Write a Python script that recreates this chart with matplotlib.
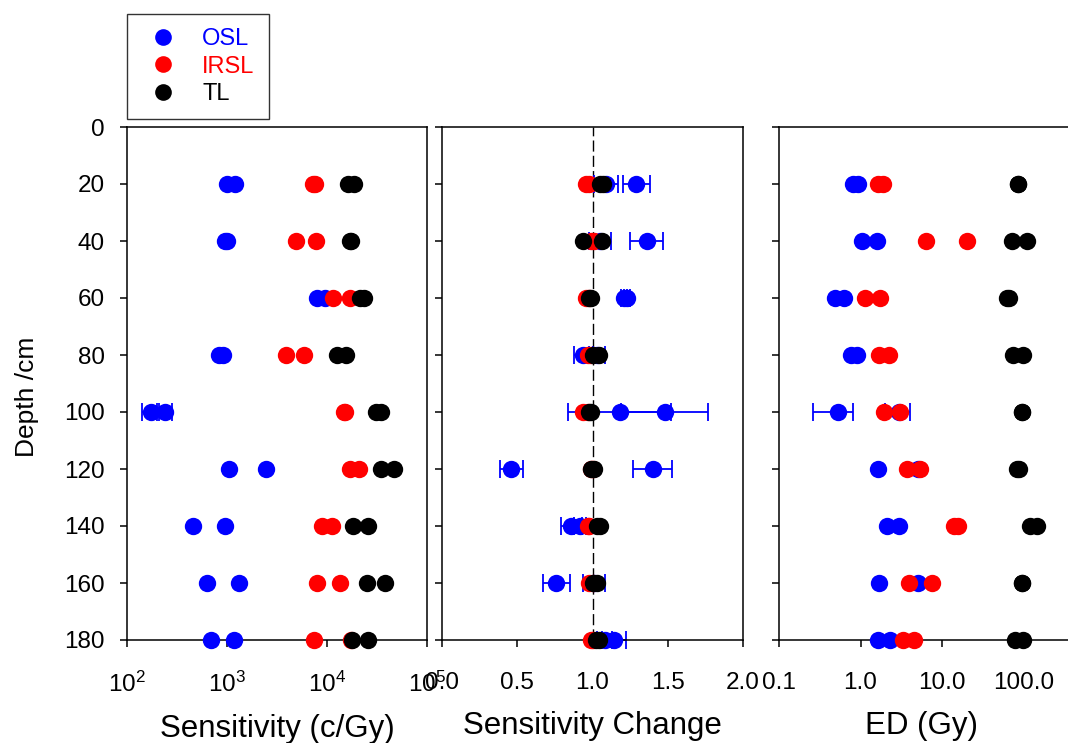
import matplotlib
matplotlib.use("Agg")
import matplotlib.pyplot as plt
from matplotlib.ticker import FixedLocator, FixedFormatter, NullLocator
from matplotlib.lines import Line2D

plt.rcParams["font.family"] = ["Liberation Sans", "DejaVu Sans"]

depth = [20, 40, 60, 80, 100, 120, 140, 160, 180]

# sensitivity (c/Gy), two aliquots per depth
sens_osl_a = [1000, 950, 7900, 830, 175, 1050, 460, 630, 690]
sens_osl_b = [1200, 1000, 9500, 910, 240, 2450, 950, 1320, 1170]
sens_osl_a_err = [0, 0, 0, 0, 35, 0, 0, 0, 0]
sens_osl_b_err = [0, 0, 0, 0, 40, 0, 0, 0, 0]
sens_irsl_a = [7300, 4900, 11500, 3900, 14800, 17000, 8900, 7900, 7400]
sens_irsl_b = [7500, 7750, 17000, 5900, 15300, 20900, 11200, 13500, 17500]
sens_tl_a = [16200, 17000, 21400, 12600, 31000, 34700, 18200, 25100, 17800]
sens_tl_b = [18600, 17500, 23400, 15500, 34700, 46800, 25700, 38000, 25700]

# sensitivity change
chg_osl_a = [1.09, 1.05, 1.21, 0.94, 1.18, 0.46, 0.86, 0.76, 1.08]
chg_osl_a_err = [0.08, 0.07, 0.02, 0.06, 0.34, 0.075, 0.07, 0.09, 0.05]
chg_osl_b = [1.29, 1.36, 1.23, 1.03, 1.48, 1.40, 0.92, 1.01, 1.14]
chg_osl_b_err = [0.09, 0.11, 0.02, 0.05, 0.29, 0.13, 0.04, 0.07, 0.08]
chg_irsl_a = [0.96, 0.99, 0.96, 0.97, 0.94, 0.99, 0.97, 0.98, 0.99]
chg_irsl_b = [0.98, 1.01, 0.98, 0.99, 0.97, 1.00, 0.98, 1.00, 1.00]
chg_tl_a = [1.05, 0.94, 0.98, 1.00, 0.98, 0.99, 1.05, 1.00, 1.02]
chg_tl_b = [1.07, 1.06, 0.99, 1.04, 0.99, 1.01, 1.03, 1.03, 1.04]

# equivalent dose (Gy)
ed_osl_a = [0.81, 1.04, 0.49, 0.76, 0.53, 1.64, 2.11, 1.69, 1.64]
ed_osl_a_err = [0, 0, 0, 0, 0.27, 0, 0, 0, 0]
ed_osl_b = [0.93, 1.59, 0.63, 0.91, 3.0, 5.1, 2.97, 5.1, 2.3]
ed_osl_b_err = [0, 0, 0, 0, 1.0, 0, 0, 0, 0]
ed_irsl_a = [1.64, 6.4, 1.14, 1.69, 1.94, 3.73, 14.0, 3.94, 3.32]
ed_irsl_b = [1.89, 20.3, 1.73, 2.24, 3.06, 5.4, 15.7, 7.5, 4.53]
ed_tl_a = [85.7, 72, 63, 74, 96, 84, 120, 96, 78.7]
ed_tl_b = [86, 110, 66, 99, 97, 88, 147, 97, 99]

W, H = 1068, 743
fig = plt.figure(figsize=(W / 100, H / 100), dpi=100)


def px_axes(x0, x1, y0, y1):
    return fig.add_axes([x0 / W, 1 - y1 / H, (x1 - x0) / W, (y1 - y0) / H])


ax1 = px_axes(127, 427, 127, 640)
ax2 = px_axes(442, 743, 127, 640)
ax3 = px_axes(779, 1079, 127, 640)

ms = 12.5


def draw(ax, osl, osl_err, irsl, tl):
    for vals, err in zip(osl, osl_err):
        # only points that carry an error bar
        keep = [i for i, e in enumerate(err) if e > 0]
        if keep:
            ax.errorbar([vals[i] for i in keep], [depth[i] for i in keep],
                        xerr=[err[i] for i in keep], fmt="none", ecolor="blue",
                        elinewidth=1.3, capsize=6.5, capthick=1.3, zorder=2,
                        clip_on=False)
    for vals in osl:
        ax.plot(vals, depth, "o", color="blue", ms=ms, mec="none",
                zorder=3, clip_on=False)
    for vals in irsl:
        ax.plot(vals, depth, "o", color="red", ms=ms, mec="none",
                zorder=4, clip_on=False)
    for vals in tl:
        ax.plot(vals, depth, "o", color="black", ms=ms, mec="none",
                zorder=5, clip_on=False)


draw(ax1, [sens_osl_a, sens_osl_b], [sens_osl_a_err, sens_osl_b_err],
     [sens_irsl_a, sens_irsl_b], [sens_tl_a, sens_tl_b])
draw(ax2, [chg_osl_a, chg_osl_b], [chg_osl_a_err, chg_osl_b_err],
     [chg_irsl_a, chg_irsl_b], [chg_tl_a, chg_tl_b])
draw(ax3, [ed_osl_a, ed_osl_b], [ed_osl_a_err, ed_osl_b_err],
     [ed_irsl_a, ed_irsl_b], [ed_tl_a, ed_tl_b])

ax2.axvline(1.0, color="black", lw=1.0, ls=(0, (8, 3)), zorder=1)

# axes setup
ax1.set_xscale("log")
ax1.set_xlim(1e2, 1e5)
ax1.xaxis.set_major_locator(FixedLocator([1e2, 1e3, 1e4, 1e5]))
ax1.xaxis.set_minor_locator(NullLocator())

ax2.set_xlim(0, 2)
ax2.set_xticks([0, 0.5, 1.0, 1.5, 2.0])
ax2.set_xticklabels(["0.0", "0.5", "1.0", "1.5", "2.0"])

ax3.set_xscale("log")
ax3.set_xlim(0.1, 10 ** (300 / 81.5 - 1))
ax3.xaxis.set_major_locator(FixedLocator([0.1, 1, 10, 100]))
ax3.xaxis.set_major_formatter(FixedFormatter(["0.1", "1.0", "10.0", "100.0"]))
ax3.xaxis.set_minor_locator(NullLocator())
ax3.spines["right"].set_visible(False)

for ax in (ax1, ax2, ax3):
    ax.set_ylim(180, 0)
    ax.set_yticks(range(0, 181, 20))
    ax.tick_params(direction="out", length=5, width=1.1, labelsize=17.5,
                   top=False, right=False)
    ax.tick_params(axis="x", pad=18)
    ax.tick_params(axis="y", pad=11)
    for sp in ax.spines.values():
        sp.set_linewidth(1.1)
ax2.tick_params(axis="y", labelleft=False)
ax3.tick_params(axis="y", labelleft=False)

ax1.set_ylabel("Depth /cm", fontsize=19, labelpad=18)
ax1.yaxis.label.set_y(0.475)
ax1.set_xlabel("Sensitivity (c/Gy)", fontsize=22.5, labelpad=12)
ax2.set_xlabel("Sensitivity Change", fontsize=22.5, labelpad=12)
ax3.set_xlabel("ED (Gy)", fontsize=22.5, labelpad=12)
# centre the ED label on the visible part of the panel
ax3.xaxis.label.set_x((922 - 779) / 300)

handles = [Line2D([], [], ls="none", marker="o", ms=12, color=c, mec="none")
           for c in ("blue", "red", "black")]
leg = fig.legend(handles, ["OSL", "IRSL", "TL"], loc="upper left",
                 bbox_to_anchor=(127 / W, 1 - 14 / H), fontsize=17,
                 frameon=True, fancybox=False, edgecolor="black",
                 handletextpad=0.72, labelspacing=0.23, borderpad=0.6,
                 handlelength=1.86, borderaxespad=0)
leg.get_frame().set_linewidth(1.0)
for txt, c in zip(leg.get_texts(), ("blue", "red", "black")):
    txt.set_color(c)

fig.savefig("out.png", dpi=100)
